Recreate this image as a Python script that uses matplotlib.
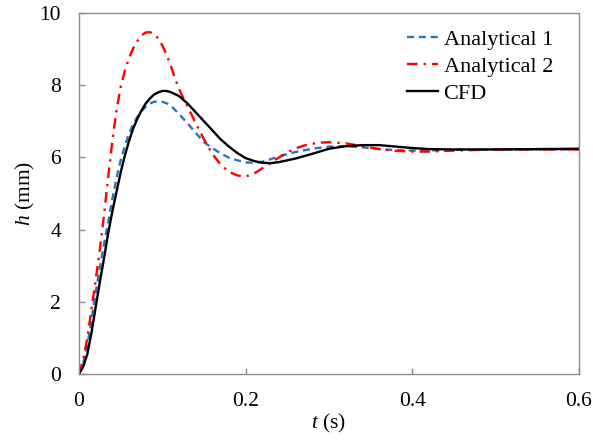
import matplotlib
matplotlib.use("Agg")
import matplotlib.pyplot as plt

plt.rcParams['font.family'] = ['Liberation Serif', 'DejaVu Serif']
plt.rcParams['mathtext.fontset'] = 'custom'
plt.rcParams['mathtext.rm'] = 'Liberation Serif'
plt.rcParams['mathtext.it'] = 'Liberation Serif:italic'

# ---- data ----
t_cfd = [0, 0.005, 0.01, 0.015, 0.02, 0.025, 0.03, 0.035, 0.04, 0.045, 0.05, 0.055,
         0.06, 0.065, 0.07, 0.075, 0.08, 0.085, 0.09, 0.095, 0.10, 0.105, 0.11, 0.12,
         0.13, 0.14, 0.15, 0.16, 0.17, 0.18, 0.19, 0.20, 0.21, 0.22, 0.23, 0.24, 0.26,
         0.28, 0.30, 0.32, 0.34, 0.36, 0.38, 0.40, 0.42, 0.45, 0.50, 0.55, 0.60]
h_cfd = [0, 0.2, 0.55, 1.15, 1.85, 2.55, 3.2, 3.9, 4.5, 5.05, 5.58, 6.05,
         6.45, 6.8, 7.07, 7.3, 7.49, 7.63, 7.74, 7.8, 7.84, 7.84, 7.81, 7.7,
         7.5, 7.25, 7.0, 6.75, 6.5, 6.3, 6.12, 5.98, 5.9, 5.85, 5.84, 5.87, 5.97,
         6.1, 6.24, 6.31, 6.34, 6.34, 6.3, 6.26, 6.23, 6.22, 6.22, 6.23, 6.24]

t_an1 = [0, 0.005, 0.01, 0.015, 0.02, 0.025, 0.03, 0.035, 0.04, 0.045, 0.05, 0.055,
         0.06, 0.065, 0.07, 0.075, 0.08, 0.085, 0.09, 0.095, 0.10, 0.105, 0.11, 0.12,
         0.13, 0.14, 0.15, 0.16, 0.17, 0.18, 0.19, 0.20, 0.21, 0.22, 0.23, 0.24, 0.26,
         0.28, 0.30, 0.32, 0.34, 0.36, 0.38, 0.40, 0.42, 0.45, 0.50, 0.55, 0.60]
h_an1 = [0, 0.3, 0.8, 1.5, 2.25, 2.95, 3.6, 4.2, 4.85, 5.43, 5.92, 6.32,
         6.66, 6.92, 7.12, 7.28, 7.4, 7.49, 7.54, 7.55, 7.54, 7.5, 7.44, 7.2,
         6.95, 6.68, 6.42, 6.26, 6.11, 5.99, 5.92, 5.86, 5.85, 5.88, 5.95, 6.03, 6.15,
         6.24, 6.3, 6.31, 6.28, 6.23, 6.2, 6.19, 6.19, 6.21, 6.22, 6.22, 6.22]

t_an2 = [0, 0.005, 0.01, 0.015, 0.02, 0.025, 0.03, 0.035, 0.04, 0.045, 0.05, 0.055,
         0.06, 0.065, 0.07, 0.075, 0.08, 0.085, 0.09, 0.095, 0.10, 0.105, 0.11, 0.115,
         0.12, 0.125, 0.13, 0.14, 0.15, 0.16, 0.17, 0.18, 0.19, 0.20, 0.21, 0.22, 0.23,
         0.24, 0.25, 0.26, 0.27, 0.28, 0.29, 0.30, 0.32, 0.34, 0.36, 0.38, 0.40, 0.42,
         0.45, 0.50, 0.55, 0.60]
h_an2 = [0, 0.4, 1.0, 1.8, 2.6, 3.45, 4.4, 5.45, 6.45, 7.3, 7.95, 8.4,
         8.75, 9.02, 9.22, 9.38, 9.46, 9.47, 9.42, 9.3, 9.1, 8.85, 8.55, 8.2,
         7.9, 7.65, 7.42, 6.95, 6.5, 6.1, 5.8, 5.6, 5.5, 5.47, 5.55, 5.7, 5.85,
         6.0, 6.14, 6.25, 6.33, 6.38, 6.41, 6.42, 6.39, 6.31, 6.23, 6.18, 6.16, 6.16,
         6.19, 6.22, 6.22, 6.22]

labels = ["Analytical 1", "Analytical 2", "CFD"]
xticks = [0, 0.2, 0.4, 0.6]
yticks = [0, 2, 4, 6, 8, 10]

# ---- figure ----
fig = plt.figure(figsize=(5.93, 4.46), dpi=100)
ax = fig.add_axes([79/593, 72/446, 500/593, 361/446])

ax.plot(t_an1, h_an1, color='#2E75B6', lw=1.7, ls=(0, (3, 2)), label=labels[0])
ax.plot(t_an2, h_an2, color='#FF0000', lw=1.7, ls=(0, (4.5, 2.5, 1, 2.5)), label=labels[1])
ax.plot(t_cfd, h_cfd, color='black', lw=1.7, ls='-', label=labels[2])

ax.set_xlim(0, 0.6)
ax.set_ylim(0, 10)
ax.set_xticks(xticks)
ax.set_xticklabels(['0', '0.2', '0.4', '0.6'])
ax.set_yticks(yticks)
ax.set_yticklabels([str(v) for v in yticks])

for s in ax.spines.values():
    s.set_color('#8c8c8c')
    s.set_linewidth(1.0)
ax.tick_params(axis='both', direction='in', length=4, width=1.0, color='#8c8c8c',
               labelsize=15.5, labelcolor='black')
ax.tick_params(axis='x', pad=13)
ax.tick_params(axis='y', pad=13)

ax.set_xlabel('$t$ (s)', fontsize=15.5, labelpad=1)
ax.set_ylabel('$h$ (mm)', fontsize=15.5, labelpad=2)

leg = ax.legend(loc='upper right', bbox_to_anchor=(553/593, 1 - 29/446),
                bbox_transform=fig.transFigure, frameon=False, fontsize=16,
                handlelength=1.4, handletextpad=0.25, labelspacing=0.3,
                borderpad=0, borderaxespad=0)

fig.savefig('out.png', dpi=100)
